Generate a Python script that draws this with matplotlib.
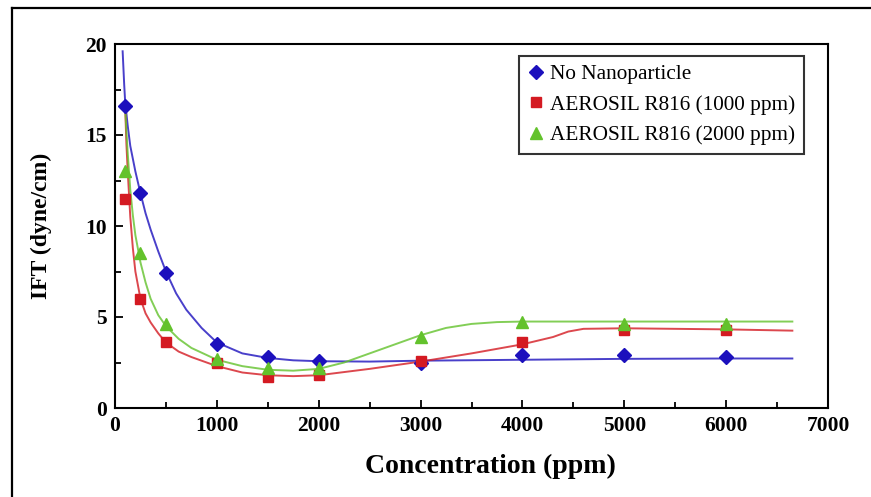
import numpy as np
import matplotlib
matplotlib.use("Agg")
import matplotlib.pyplot as plt
from matplotlib.lines import Line2D
from matplotlib.ticker import MultipleLocator

plt.rcParams['font.family'] = ['Liberation Serif', 'DejaVu Serif']

# measured points
conc = [100, 250, 500, 1000, 1500, 2000, 3000, 4000, 5000, 6000]
ift_none = [16.6, 11.8, 7.4, 3.5, 2.8, 2.6, 2.5, 2.9, 2.9, 2.8]
ift_1000 = [11.5, 6.0, 3.6, 2.5, 1.7, 1.8, 2.6, 3.6, 4.3, 4.3]
ift_2000 = [13.0, 8.5, 4.6, 2.7, 2.2, 2.2, 3.9, 4.7, 4.6, 4.6]

# trend curves
fit_none_x = [75, 90, 100, 125, 150, 200, 250, 300, 350, 425, 500, 600, 700, 850, 1000,
              1250, 1500, 1750, 2000, 2500, 3000, 4000, 5000, 6000, 6650]
fit_none_y = [19.6, 17.8, 16.8, 15.5, 14.4, 13.0, 11.8, 10.7, 9.8, 8.6, 7.5, 6.3, 5.4,
              4.4, 3.6, 3.0, 2.75, 2.62, 2.57, 2.55, 2.6, 2.65, 2.7, 2.72, 2.72]
fit_1000_x = [100, 112, 125, 150, 175, 200, 250, 300, 350, 425, 500, 625, 750, 1000,
              1250, 1500, 1750, 2000, 2500, 3000, 3500, 4000, 4300, 4450, 4600, 5000,
              6000, 6650]
fit_1000_y = [16.5, 14.5, 13.0, 10.5, 8.8, 7.5, 6.0, 5.2, 4.7, 4.1, 3.6, 3.1, 2.8, 2.3,
              1.95, 1.8, 1.75, 1.8, 2.15, 2.55, 3.0, 3.5, 3.9, 4.2, 4.35, 4.38, 4.32,
              4.25]
fit_2000_x = [100, 112, 125, 150, 175, 200, 250, 300, 350, 425, 500, 625, 750, 1000,
              1250, 1500, 1750, 2000, 2250, 2500, 2750, 3000, 3250, 3500, 3750, 4000,
              5000, 6650]
fit_2000_y = [16.5, 15.2, 14.0, 12.0, 10.6, 9.5, 8.0, 6.9, 6.0, 5.1, 4.5, 3.8, 3.3,
              2.65, 2.3, 2.1, 2.05, 2.15, 2.5, 3.0, 3.5, 4.0, 4.4, 4.62, 4.72, 4.75,
              4.75, 4.75]

blue = '#1c10bd'
red = '#d41a22'
green = '#63c22c'

fig = plt.figure(figsize=(8.71, 4.97), dpi=100)
ax = fig.add_axes([115 / 871, 1 - 408 / 497, 713 / 871, 364 / 497])

ax.plot(fit_none_x, fit_none_y, color=blue, lw=1.4, alpha=0.8)
ax.plot(fit_1000_x, fit_1000_y, color=red, lw=1.4, alpha=0.8)
ax.plot(fit_2000_x, fit_2000_y, color=green, lw=1.4, alpha=0.8)

ax.plot(conc, ift_none, 'D', color=blue, ms=7, label='No Nanoparticle')
ax.plot(conc, ift_1000, 's', color=red, ms=7, label='AEROSIL R816 (1000 ppm)')
ax.plot(conc, ift_2000, '^', color=green, ms=9, label='AEROSIL R816 (2000 ppm)')

ax.set_xlim(0, 7000)
ax.set_ylim(0, 20)
ax.xaxis.set_major_locator(MultipleLocator(1000))
ax.xaxis.set_minor_locator(MultipleLocator(500))
ax.yaxis.set_major_locator(MultipleLocator(5))
ax.yaxis.set_minor_locator(MultipleLocator(2.5))
ax.tick_params(which='both', direction='in', top=False, right=False, width=1.3)
ax.tick_params(which='major', length=6, labelsize=15.5, pad=6)
ax.tick_params(which='minor', length=4)
for lab in ax.get_xticklabels() + ax.get_yticklabels():
    lab.set_fontweight('bold')
for sp in ax.spines.values():
    sp.set_linewidth(1.5)

ax.set_xlabel('Concentration (ppm)', fontsize=20, fontweight='bold')
ax.xaxis.set_label_coords(0.526, -0.125)
ax.set_ylabel('IFT (dyne/cm)', fontsize=17, fontweight='bold', labelpad=24)

leg = ax.legend(loc='upper right', bbox_to_anchor=(0.966, 0.967), fontsize=15.3,
                frameon=True, fancybox=False, edgecolor='black', handlelength=0.8,
                handletextpad=0.25, borderpad=0.4, labelspacing=0.5, borderaxespad=0)
leg.get_frame().set_linewidth(1.5)

# outer frame of the screenshot
fig.add_artist(Line2D([12 / 871, 12 / 871], [0, 1 - 8 / 497], color='black', lw=1.6,
                      transform=fig.transFigure))
fig.add_artist(Line2D([12 / 871, 1], [1 - 8 / 497, 1 - 8 / 497], color='black', lw=1.6,
                      transform=fig.transFigure))

fig.savefig('out.png', dpi=100)
